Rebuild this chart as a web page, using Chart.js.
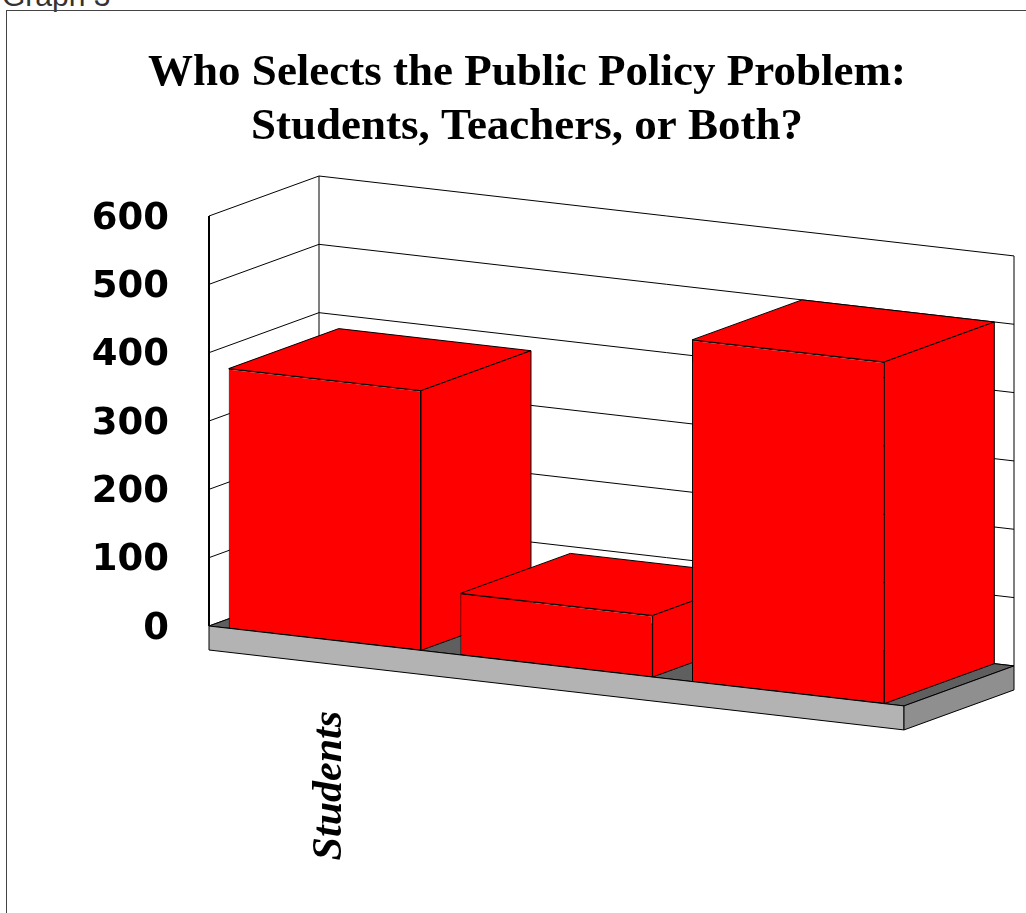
<!DOCTYPE html>
<html>
<head>
<meta charset="utf-8">
<title>Graph 3</title>
<script src="https://cdn.jsdelivr.net/npm/chart.js@4/dist/chart.umd.min.js"></script>
<style>
    body {
        margin: 0;
        background: #fff;
        overflow: hidden;
    }
    .caption {
        position: absolute;
        left: 2px;
        top: -21px;
        font: 30px 'Liberation Sans', Arial, sans-serif;
        color: #333;
    }
    .frame {
        position: absolute;
        left: 6px;
        top: 10px;
        width: 1100px;
        height: 1000px;
        border: 1px solid #444;
    }
    .chart-box {
        position: absolute;
        left: 0;
        top: 0;
        width: 1026px;
        height: 913px;
    }
</style>
</head>
<body>
<div class="caption">Graph 3</div>
<div class="frame"></div>
<div class="chart-box"><canvas id="policy-chart"></canvas></div>

<script>
const categories = ['Students', 'Teachers', 'Both'];
const responses = [380, 90, 500];
const axisLabels = ['Students', '', ''];
const yMax = 600;
const yStep = 100;

// oblique projection: front edges drop to the right, depth runs up-right
const SLOPE = 0.115;
const DEPTH_X = 110;
const DEPTH_Y = -40;
const SLAB = 24;

const box3d = {
    id: 'box3d',
    beforeDatasetsDraw(chart) {
        const { ctx, chartArea: area } = chart;
        const yScale = chart.scales.y;
        const lift = (x, py) => [x, py + SLOPE * (x - area.left)];
        const back = (p) => [p[0] + DEPTH_X, p[1] + DEPTH_Y];
        const down = (p) => [p[0], p[1] + SLAB];

        const shape = (pts, fill) => {
            ctx.beginPath();
            ctx.moveTo(pts[0][0], pts[0][1]);
            pts.slice(1).forEach((p) => ctx.lineTo(p[0], p[1]));
            ctx.closePath();
            if (fill) {
                ctx.fillStyle = fill;
                ctx.fill();
            }
            ctx.stroke();
        };
        const line = (pts, width) => {
            ctx.lineWidth = width || 1;
            ctx.beginPath();
            ctx.moveTo(pts[0][0], pts[0][1]);
            pts.slice(1).forEach((p) => ctx.lineTo(p[0], p[1]));
            ctx.stroke();
        };

        ctx.save();
        ctx.strokeStyle = '#000';
        ctx.lineJoin = 'miter';

        // side and back walls with their gridlines
        yScale.ticks.forEach((tick) => {
            const py = yScale.getPixelForValue(tick.value);
            const fl = lift(area.left, py);
            const fr = lift(area.right, py);
            line([fl, back(fl), back(fr)]);
        });

        const top = yScale.getPixelForValue(yMax);
        const zero = yScale.getPixelForValue(0);
        const topL = lift(area.left, top);
        const topR = lift(area.right, top);
        const zeroL = lift(area.left, zero);
        const zeroR = lift(area.right, zero);
        line([back(topL), back(zeroL)]);
        line([back(topR), back(zeroR)]);
        line([topL, zeroL], 2);

        // floor slab
        ctx.lineWidth = 1;
        shape([zeroL, zeroR, back(zeroR), back(zeroL)], '#5f5f5f');
        shape([zeroL, zeroR, down(zeroR), down(zeroL)], '#b3b3b3');
        shape([zeroR, back(zeroR), down(back(zeroR)), down(zeroR)], '#8f8f8f');

        // tops and right sides of the columns; fronts come from the bar controller
        const meta = chart.getDatasetMeta(0);
        meta.data.forEach((bar) => {
            const { x, y, base, width } = bar.getProps(['x', 'y', 'base', 'width'], true);
            const a = lift(x - width / 2, y);
            const b = lift(x + width / 2, y);
            const c = lift(x + width / 2, base);
            shape([a, b, back(b), back(a)], '#ff0000');
            shape([b, c, back(c), back(b)], '#ff0000');
        });
        ctx.restore();

        ctx.save();
        ctx.transform(1, SLOPE, 0, 1, 0, -SLOPE * area.left);
    },
    afterDatasetsDraw(chart) {
        chart.ctx.restore();
    },
};

function createPolicyChart(canvas) {
    return new Chart(canvas, {
        type: 'bar',
        data: {
            labels: categories,
            datasets: [
                {
                    data: responses,
                    backgroundColor: '#ff0000',
                    borderColor: '#000',
                    borderWidth: 1,
                    borderSkipped: false,
                    categoryPercentage: 1,
                    barPercentage: 0.83,
                    clip: false,
                },
            ],
        },
        options: {
            responsive: true,
            maintainAspectRatio: false,
            animation: false,
            layout: {
                padding: { left: 28, right: 0, top: 0, bottom: 0 },
            },
            plugins: {
                legend: { display: false },
                tooltip: { enabled: false },
                title: {
                    display: true,
                    text: ['Who Selects the Public Policy Problem:', 'Students, Teachers, or Both?'],
                    color: '#000',
                    font: {
                        family: "'Liberation Serif', 'Times New Roman', serif",
                        size: 45,
                        weight: 'bold',
                        lineHeight: 1.2,
                    },
                    padding: { top: 46, bottom: 62 },
                },
            },
            scales: {
                y: {
                    min: 0,
                    max: yMax,
                    grid: { display: false },
                    border: { display: false },
                    afterFit(scale) {
                        scale.width = 181;
                    },
                    ticks: {
                        stepSize: yStep,
                        padding: 32,
                        labelOffset: 3,
                        color: '#000',
                        font: {
                            family: "'DejaVu Sans', Verdana, sans-serif",
                            size: 37,
                            weight: 'bold',
                        },
                    },
                },
                // empty axis on the right keeps room for the box depth
                depth: {
                    type: 'linear',
                    position: 'right',
                    grid: { display: false },
                    border: { display: false },
                    ticks: { display: false },
                    afterFit(scale) {
                        scale.width = 122;
                    },
                },
                x: {
                    grid: { display: false, drawTicks: false },
                    border: { display: false },
                    afterFit(scale) {
                        scale.height = 287;
                    },
                    ticks: {
                        minRotation: 90,
                        maxRotation: 90,
                        autoSkip: false,
                        padding: 85,
                        labelOffset: 5,
                        color: '#000',
                        font: {
                            family: "'Liberation Serif', 'Times New Roman', serif",
                            size: 42,
                            weight: 'bold',
                            style: 'italic',
                        },
                        callback(value, index) {
                            return axisLabels[index];
                        },
                    },
                },
            },
        },
        plugins: [box3d],
    });
}

createPolicyChart(document.getElementById('policy-chart'));
</script>
</body>
</html>
